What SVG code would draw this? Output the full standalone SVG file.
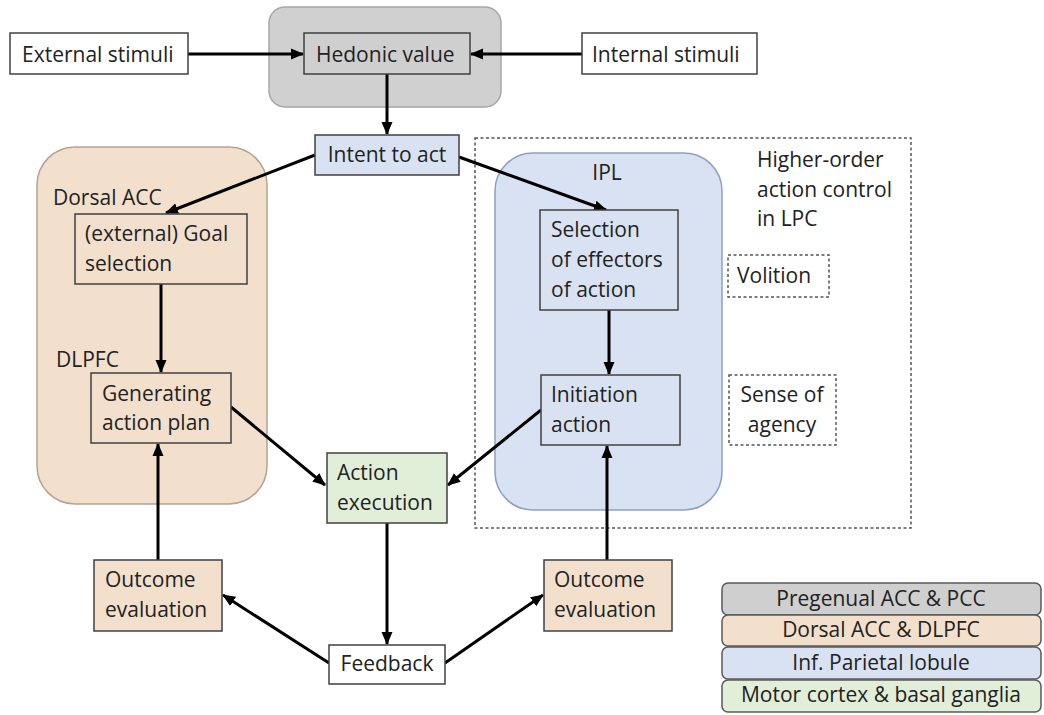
<svg xmlns="http://www.w3.org/2000/svg" width="1044" height="715" viewBox="0 0 1044 715">
<defs>
<marker id="ah" markerUnits="userSpaceOnUse" markerWidth="13" markerHeight="13" viewBox="0 0 13 13" refX="12" refY="6.5" orient="auto">
<path d="M0,1 L13,6.5 L0,12 z" fill="#000"/>
</marker>
</defs>
<style>
text{font-family:"Open Sans","Liberation Sans",sans-serif;font-size:21px;fill:#222}
.mid{text-anchor:middle}
.box{stroke:#404040;stroke-width:1.5}
.white{fill:#fff}
.gray{fill:#cfcfcf}
.tan{fill:#f2dfcc}
.blue{fill:#d9e2f2}
.green{fill:#e1efd8}
.dash{fill:none;stroke:#555;stroke-width:1.5;stroke-dasharray:3,2.5}
.conn{stroke:#000;stroke-width:3;fill:none;marker-end:url(#ah)}
</style>
<rect width="1044" height="715" fill="#fff"/>

<g id="group-pregenual">
<rect x="269" y="7" width="232" height="100" rx="16" fill="#d0d0d0" stroke="#a6a6a6" stroke-width="1.5"/>
</g>
<g id="group-dorsal">
<rect x="37" y="147" width="230" height="357" rx="38" fill="#f2dfcc" stroke="#b3a494" stroke-width="1.5"/>
<text x="53" y="205">Dorsal ACC</text>
<text x="56" y="367">DLPFC</text>
</g>
<g id="group-lpc">
<rect x="475" y="138" width="436" height="390" class="dash"/>
<text x="757" y="167">Higher-order</text>
<text x="757" y="197">action control</text>
<text x="757" y="226">in LPC</text>
</g>
<g id="group-ipl">
<rect x="495" y="153" width="227" height="357" rx="38" fill="#d9e2f2" stroke="#8ea0c2" stroke-width="1.5"/>
<text x="607" y="180" class="mid">IPL</text>
</g>

<g id="connectors">
<line x1="188" y1="54" x2="303" y2="54" class="conn"/>
<line x1="582" y1="54" x2="471" y2="54" class="conn"/>
<line x1="387" y1="74" x2="387" y2="134" class="conn"/>
<line x1="315" y1="155" x2="166" y2="213" class="conn"/>
<line x1="459" y1="157" x2="606" y2="210" class="conn"/>
<line x1="161" y1="284" x2="161" y2="372" class="conn"/>
<line x1="609" y1="310" x2="609" y2="374" class="conn"/>
<line x1="231" y1="407" x2="325" y2="485" class="conn"/>
<line x1="541" y1="410" x2="448" y2="485" class="conn"/>
<line x1="387" y1="523" x2="387" y2="644" class="conn"/>
<line x1="329" y1="663" x2="223" y2="595" class="conn"/>
<line x1="445" y1="663" x2="543" y2="595" class="conn"/>
<line x1="158" y1="560" x2="158" y2="444" class="conn"/>
<line x1="607" y1="560" x2="607" y2="446" class="conn"/>
</g>

<g id="external-stimuli">
<rect x="10" y="33" width="178" height="41" class="box white"/>
<text x="22" y="62">External stimuli</text>
</g>
<g id="hedonic-value">
<rect x="304" y="33" width="166" height="41" class="box gray"/>
<text x="316" y="62">Hedonic value</text>
</g>
<g id="internal-stimuli">
<rect x="582" y="33" width="175" height="41" class="box white"/>
<text x="592" y="62">Internal stimuli</text>
</g>
<g id="intent-to-act">
<rect x="315" y="135" width="144" height="40" class="box blue"/>
<text x="387" y="162" class="mid">Intent to act</text>
</g>
<g id="goal-selection">
<rect x="75" y="214" width="172" height="70" class="box tan"/>
<text x="85" y="241">(external) Goal</text>
<text x="85" y="271">selection</text>
</g>
<g id="generating-action-plan">
<rect x="91" y="373" width="140" height="70" class="box tan"/>
<text x="102" y="401">Generating</text>
<text x="102" y="430">action plan</text>
</g>
<g id="selection-effectors">
<rect x="540" y="210" width="138" height="100" class="box blue"/>
<text x="551" y="237">Selection</text>
<text x="551" y="267">of effectors</text>
<text x="551" y="297">of action</text>
</g>
<g id="initiation-action">
<rect x="541" y="375" width="139" height="70" class="box blue"/>
<text x="551" y="402">Initiation</text>
<text x="551" y="432">action</text>
</g>
<g id="volition">
<rect x="728" y="255" width="101" height="42" class="dash"/>
<text x="737" y="283">Volition</text>
</g>
<g id="sense-of-agency">
<rect x="729" y="375" width="107" height="70" class="dash"/>
<text x="782" y="402" class="mid">Sense of</text>
<text x="782" y="432" class="mid">agency</text>
</g>
<g id="action-execution">
<rect x="327" y="453" width="120" height="70" class="box green"/>
<text x="337" y="480">Action</text>
<text x="337" y="510">execution</text>
</g>
<g id="outcome-left">
<rect x="94" y="560" width="128" height="71" class="box tan"/>
<text x="105" y="587">Outcome</text>
<text x="105" y="617">evaluation</text>
</g>
<g id="outcome-right">
<rect x="544" y="560" width="128" height="71" class="box tan"/>
<text x="554" y="587">Outcome</text>
<text x="554" y="617">evaluation</text>
</g>
<g id="feedback">
<rect x="329" y="645" width="116" height="39" class="box white"/>
<text x="387" y="671" class="mid">Feedback</text>
</g>

<g id="legend">
<rect x="722" y="583" width="319" height="32" rx="6" fill="#cfcfcf" stroke="#595959" stroke-width="1.5"/>
<text x="881" y="606" class="mid">Pregenual ACC &amp; PCC</text>
<rect x="722" y="615" width="319" height="31" rx="6" fill="#f2dfcc" stroke="#595959" stroke-width="1.5"/>
<text x="881" y="637" class="mid">Dorsal ACC &amp; DLPFC</text>
<rect x="722" y="647" width="319" height="32" rx="6" fill="#d9e2f2" stroke="#595959" stroke-width="1.5"/>
<text x="881" y="670" class="mid">Inf. Parietal lobule</text>
<rect x="722" y="680" width="319" height="32" rx="6" fill="#e1efd8" stroke="#595959" stroke-width="1.5"/>
<text x="881" y="702" class="mid">Motor cortex &amp; basal ganglia</text>
</g>
</svg>
